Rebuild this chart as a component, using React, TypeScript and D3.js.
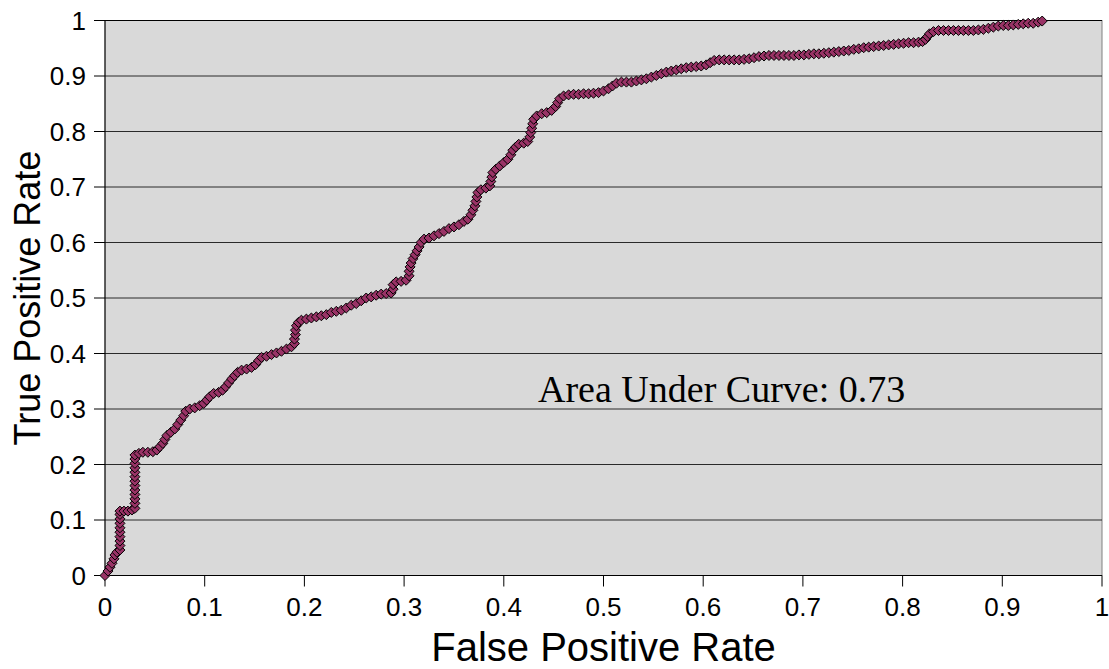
import { useEffect } from "react";
import * as d3 from "d3";

// ROC curve points: [false positive rate, true positive rate]
const rocPoints: [number, number][] = [
  [0, 0], [0.003, 0.008], [0.005, 0.015], [0.007, 0.022], [0.009, 0.03], [0.01, 0.037], [0.012, 0.042], [0.015, 0.046],
  [0.015, 0.054], [0.015, 0.062], [0.015, 0.07], [0.015, 0.078], [0.015, 0.086], [0.015, 0.094], [0.015, 0.102], [0.015, 0.11], [0.015, 0.116],
  [0.019, 0.116], [0.023, 0.116], [0.027, 0.118], [0.03, 0.121],
  [0.03, 0.13], [0.03, 0.138], [0.03, 0.146], [0.03, 0.154], [0.03, 0.162], [0.03, 0.17], [0.03, 0.178], [0.03, 0.186], [0.03, 0.194], [0.03, 0.202], [0.03, 0.21], [0.03, 0.217],
  [0.034, 0.22], [0.038, 0.222], [0.043, 0.222], [0.048, 0.223], [0.052, 0.226], [0.055, 0.232], [0.058, 0.238], [0.06, 0.245], [0.062, 0.252],
  [0.066, 0.258], [0.07, 0.264], [0.073, 0.272], [0.076, 0.28], [0.079, 0.288], [0.081, 0.296], [0.085, 0.3], [0.09, 0.302], [0.095, 0.306],
  [0.099, 0.31], [0.102, 0.316], [0.105, 0.322], [0.109, 0.328], [0.114, 0.33], [0.118, 0.334], [0.121, 0.34], [0.124, 0.347], [0.127, 0.354],
  [0.13, 0.36], [0.133, 0.366], [0.137, 0.37], [0.142, 0.372], [0.147, 0.375], [0.151, 0.38], [0.154, 0.387], [0.157, 0.393], [0.162, 0.395],
  [0.167, 0.398], [0.172, 0.401], [0.177, 0.404], [0.182, 0.408], [0.187, 0.412], [0.19, 0.418],
  [0.19, 0.426], [0.191, 0.434], [0.191, 0.442], [0.192, 0.45], [0.194, 0.456], [0.197, 0.46],
  [0.202, 0.462], [0.207, 0.464], [0.212, 0.466], [0.217, 0.468], [0.222, 0.47], [0.227, 0.474], [0.232, 0.476], [0.237, 0.478], [0.242, 0.482],
  [0.247, 0.487], [0.252, 0.49], [0.257, 0.495], [0.262, 0.5], [0.267, 0.502], [0.272, 0.505], [0.277, 0.507], [0.282, 0.508], [0.287, 0.509],
  [0.289, 0.516], [0.289, 0.524], [0.292, 0.529], [0.297, 0.53], [0.302, 0.532],
  [0.305, 0.54], [0.305, 0.548], [0.306, 0.556], [0.307, 0.563], [0.309, 0.571], [0.311, 0.578], [0.313, 0.585], [0.315, 0.592], [0.317, 0.6],
  [0.32, 0.606], [0.325, 0.608], [0.33, 0.612], [0.335, 0.616], [0.34, 0.62], [0.345, 0.625], [0.35, 0.628], [0.355, 0.632], [0.36, 0.638],
  [0.364, 0.642], [0.367, 0.65], [0.369, 0.658], [0.371, 0.666], [0.372, 0.674], [0.373, 0.682], [0.374, 0.69], [0.377, 0.695], [0.382, 0.698],
  [0.386, 0.702], [0.387, 0.71], [0.388, 0.718], [0.389, 0.726], [0.392, 0.732], [0.396, 0.738], [0.4, 0.744], [0.404, 0.75], [0.407, 0.758],
  [0.409, 0.766], [0.412, 0.772], [0.415, 0.777], [0.42, 0.779], [0.424, 0.782], [0.426, 0.79], [0.427, 0.798], [0.428, 0.806], [0.429, 0.814],
  [0.43, 0.822], [0.433, 0.828], [0.438, 0.832], [0.443, 0.834], [0.448, 0.838], [0.452, 0.845], [0.454, 0.852], [0.456, 0.859], [0.46, 0.864],
  [0.465, 0.866], [0.47, 0.867], [0.475, 0.867], [0.48, 0.868], [0.485, 0.868], [0.49, 0.869], [0.495, 0.87], [0.5, 0.873], [0.505, 0.877],
  [0.509, 0.882], [0.513, 0.887], [0.518, 0.889], [0.523, 0.889], [0.528, 0.889], [0.533, 0.891], [0.538, 0.893], [0.543, 0.895], [0.548, 0.898],
  [0.553, 0.901], [0.558, 0.904], [0.563, 0.907], [0.568, 0.909], [0.573, 0.911], [0.578, 0.913], [0.583, 0.915], [0.588, 0.916], [0.593, 0.917],
  [0.598, 0.918], [0.603, 0.92], [0.607, 0.924], [0.611, 0.928], [0.616, 0.929], [0.621, 0.929], [0.626, 0.929], [0.631, 0.929], [0.636, 0.929],
  [0.641, 0.93], [0.646, 0.931], [0.651, 0.933], [0.656, 0.935], [0.661, 0.936], [0.666, 0.937], [0.671, 0.937], [0.676, 0.937], [0.681, 0.937],
  [0.686, 0.937], [0.691, 0.937], [0.696, 0.938], [0.701, 0.938], [0.706, 0.939], [0.711, 0.94], [0.716, 0.94], [0.721, 0.941], [0.726, 0.942],
  [0.731, 0.943], [0.736, 0.944], [0.741, 0.945], [0.746, 0.946], [0.751, 0.948], [0.756, 0.949], [0.761, 0.951], [0.766, 0.952], [0.771, 0.953],
  [0.776, 0.954], [0.781, 0.955], [0.786, 0.956], [0.791, 0.957], [0.796, 0.958], [0.801, 0.959], [0.806, 0.96], [0.811, 0.96], [0.816, 0.961],
  [0.82, 0.962], [0.823, 0.966], [0.825, 0.971], [0.827, 0.976], [0.831, 0.98], [0.836, 0.982], [0.841, 0.982], [0.846, 0.982], [0.851, 0.982],
  [0.856, 0.982], [0.861, 0.982], [0.866, 0.982], [0.871, 0.982], [0.876, 0.983], [0.881, 0.984], [0.886, 0.986], [0.891, 0.988], [0.896, 0.99],
  [0.901, 0.991], [0.906, 0.991], [0.911, 0.992], [0.916, 0.993], [0.921, 0.994], [0.926, 0.995], [0.931, 0.995], [0.936, 0.997], [0.94, 0.999],
];

const xTicks = [0, 0.1, 0.2, 0.3, 0.4, 0.5, 0.6, 0.7, 0.8, 0.9, 1];
const yTicks = [0, 0.1, 0.2, 0.3, 0.4, 0.5, 0.6, 0.7, 0.8, 0.9, 1];
const aucLabel = "Area Under Curve: 0.73";

const W = 1109;
const H = 669;
const plot = { left: 105, right: 1102, top: 20.5, bottom: 575.5 };
const sans = "'Liberation Sans', Arial, sans-serif";

export default function App() {
  useEffect(() => {
    document.body.style.margin = "0";
  }, []);

  const x = d3.scaleLinear().domain([0, 1]).range([plot.left, plot.right]);
  const y = d3.scaleLinear().domain([0, 1]).range([plot.bottom, plot.top]);

  const line = d3.line<[number, number]>()
    .x(d => x(d[0]))
    .y(d => y(d[1]));

  const diamond = d3.symbol().type(d3.symbolDiamond2).size(64)() as string;

  const fmt = (v: number) => (v === 0 || v === 1 ? String(v) : v.toFixed(1));

  return (
    <svg width={W} height={H} style={{ display: "block", background: "#fff" }}>
      <rect
        x={plot.left}
        y={plot.top}
        width={plot.right - plot.left}
        height={plot.bottom - plot.top}
        fill="#d9d9d9"
        stroke="#808080"
        strokeWidth={1}
      />
      {/* gridlines */}
      {yTicks.filter(t => t > 0).map(t => (
        <line key={"g" + t} x1={plot.left} x2={plot.right} y1={y(t)} y2={y(t)} stroke={t === 1 ? "#000" : "#2a2a2a"} strokeWidth={1} />
      ))}
      {/* axes */}
      <line x1={plot.left} x2={plot.left} y1={plot.top} y2={plot.bottom} stroke="#000" />
      <line x1={plot.left} x2={plot.right} y1={plot.bottom} y2={plot.bottom} stroke="#000" />
      {yTicks.map(t => (
        <g key={"y" + t}>
          <line x1={plot.left - 11} x2={plot.left} y1={y(t)} y2={y(t)} stroke="#000" />
          <text x={86} y={y(t)} dy="0.36em" textAnchor="end" fontFamily={sans} fontSize={26}>
            {fmt(t)}
          </text>
        </g>
      ))}
      {xTicks.map(t => (
        <g key={"x" + t}>
          <line x1={x(t)} x2={x(t)} y1={plot.bottom} y2={plot.bottom + 11} stroke="#000" />
          <text x={x(t)} y={616} textAnchor="middle" fontFamily={sans} fontSize={26}>
            {fmt(t)}
          </text>
        </g>
      ))}
      {/* series */}
      <path d={line(rocPoints) ?? ""} fill="none" stroke="#000" strokeWidth={2.5} />
      {rocPoints.map((p, i) => (
        <path
          key={i}
          d={diamond}
          transform={`translate(${x(p[0])},${y(p[1])})`}
          fill="#993366"
          stroke="#000"
          strokeWidth={1}
        />
      ))}
      <text x={538} y={402} fontFamily="'Liberation Serif', 'Times New Roman', serif" fontSize={38}>
        {aucLabel}
      </text>
      <text x={(plot.left + plot.right) / 2} y={661} textAnchor="middle" fontFamily={sans} fontSize={40}>
        False Positive Rate
      </text>
      <text
        transform={`translate(40,${(plot.top + plot.bottom) / 2}) rotate(-90)`}
        textAnchor="middle"
        fontFamily={sans}
        fontSize={36}
      >
        True Positive Rate
      </text>
    </svg>
  );
}
